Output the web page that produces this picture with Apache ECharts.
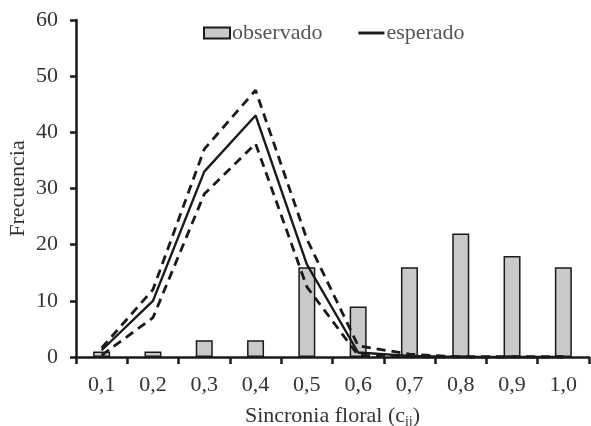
<!DOCTYPE html>
<html><head><meta charset="utf-8">
<script src="https://cdn.jsdelivr.net/npm/echarts@6/dist/echarts.min.js"></script>
<style>html,body{margin:0;padding:0;background:#fff}#c{width:591px;height:426px}</style>
</head><body><div id="c"></div>
<script>
const categories = ['0,1','0,2','0,3','0,4','0,5','0,6','0,7','0,8','0,9','1,0'];
const observado = [1, 1, 3, 3, 16, 9, 16, 22, 18, 16];
const esperado = [1.2, 10, 33, 43, 16.5, 0.8, 0.2, 0, 0, 0];
const esperadoSup = [1.6, 12, 37, 47.5, 21, 2, 0.5, 0, 0, 0];
const esperadoInf = [0.3, 7, 29, 38, 12.5, 0.3, 0, 0, 0, 0];
const yTicks = [0, 10, 20, 30, 40, 50, 60];

const font = 'Liberation Serif';
const chart = echarts.init(document.getElementById('c'), null, {renderer: 'canvas'});
const dashStyle = {color: '#1a1a1a', width: 2.8, type: [9, 6]};
chart.setOption({
  animation: false,
  backgroundColor: '#fff',
  grid: {left: 76, right: 2, top: 20, bottom: 69, containLabel: false, outerBoundsMode: 'none'},
  legend: {
    data: [
      {name: 'observado', icon: 'rect'},
      {name: 'esperado', icon: 'path://M0,0H28V3.2H0Z', itemStyle: {color: '#1a1a1a', borderWidth: 0}}
    ],
    left: 198, top: 17, itemWidth: 26, itemHeight: 11, itemGap: 36,
    textStyle: {fontFamily: font, fontSize: 22, color: '#555', padding: [0, 0, 0, -3]}
  },
  xAxis: {
    type: 'category', data: categories, boundaryGap: true,
    axisLine: {lineStyle: {color: '#1a1a1a', width: 2.5}},
    axisTick: {show: true, interval: 0, length: 7, lineStyle: {color: '#1a1a1a', width: 2.5}},
    axisLabel: {fontFamily: font, fontSize: 22, color: '#333', margin: 17, interval: 0},
    name: '{a|Sincronia floral (c}{b|ij}{a|)}',
    nameLocation: 'middle', nameGap: 46,
    nameTextStyle: {
      rich: {
        a: {fontFamily: font, fontSize: 22, color: '#333'},
        b: {fontFamily: font, fontSize: 14, color: '#333', verticalAlign: 'bottom', padding: [12, 0, 0, 0]}
      }
    }
  },
  yAxis: {
    type: 'value', min: 0, max: 60, interval: 10,
    axisLine: {show: true, lineStyle: {color: '#1a1a1a', width: 2.5}},
    axisTick: {show: true, length: 6, lineStyle: {color: '#1a1a1a', width: 2.5}},
    splitLine: {show: false},
    axisLabel: {fontFamily: font, fontSize: 22, color: '#333', margin: 18,
      formatter: v => yTicks.includes(v) ? String(v) : ''},
    name: 'Frecuencia', nameLocation: 'middle', nameGap: 47, nameMoveOverlap: false,
    nameTextStyle: {fontFamily: font, fontSize: 22, color: '#333'}
  },
  series: [
    {name: 'observado', type: 'bar', data: observado, barWidth: 17,
      itemStyle: {color: '#c9c9c9', borderColor: '#1a1a1a', borderWidth: 1.5}, z: 2},
    {name: 'esperado', type: 'line', data: esperado, symbol: 'none',
      lineStyle: {color: '#1a1a1a', width: 2.4}, itemStyle: {color: '#1a1a1a'}, z: 3},
    {name: 'sup', type: 'line', data: esperadoSup, symbol: 'none', lineStyle: dashStyle, z: 3},
    {name: 'inf', type: 'line', data: esperadoInf, symbol: 'none', lineStyle: dashStyle, z: 3}
  ]
});
</script></body></html>
